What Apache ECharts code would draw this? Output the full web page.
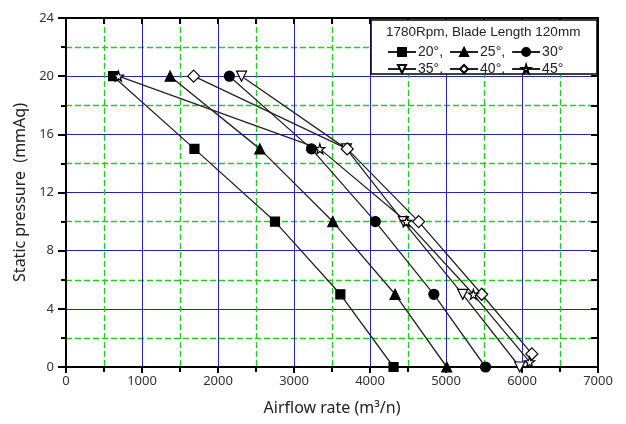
<!DOCTYPE html>
<html>
<head>
<meta charset="utf-8">
<script src="https://cdn.jsdelivr.net/npm/echarts@6/dist/echarts.min.js"></script>
<style>
html,body{margin:0;padding:0;background:#fff;}
#chart{width:626px;height:424px;}
</style>
</head>
<body>
<div id="chart"></div>
<script>
// Data (airflow m3/n, static pressure mmAq)
const seriesNames = ['20°', '25°', '30°', '35°', '40°', '45°'];
const pressure = [20, 15, 10, 5, 0];
const flow20 = [620, 1690, 2750, 3610, 4310];
const flow25 = [1370, 2550, 3510, 4330, 5010];
const flow30 = [2150, 3230, 4070, 4840, 5520];
const flow35 = [2310, 3690, 4440, 5220, 5970];
const flow40 = [1680, 3700, 4640, 5470, 6130];
const flow45 = [690, 3340, 4480, 5360, 6100];
const pressure40 = [20, 15, 10, 5, 0.9];
const pressure45 = [20, 15, 10, 5, 0.35];
const xTicks = [0, 1000, 2000, 3000, 4000, 5000, 6000, 7000];
const yTicks = [0, 4, 8, 12, 16, 20, 24];

function pairs(xs, ys) { return xs.map((x, i) => [x, ys[i]]); }

const STAR = 'path://M50,0 L61,35 L98,35 L68,57 L79,91 L50,70 L21,91 L32,57 L2,35 L39,35 Z';
const lineColor = '#222';
const styles = [
  { symbol: 'rect', size: 9, fill: '#000' },
  { symbol: 'triangle', size: 10, fill: '#000' },
  { symbol: 'circle', size: 10, fill: '#000' },
  { symbol: 'triangle', size: 10, fill: '#fff', rotate: 180 },
  { symbol: 'diamond', size: 12, fill: '#fff' },
  { symbol: STAR, size: 10, fill: '#fff' }
];
const dataSets = [
  pairs(flow20, pressure), pairs(flow25, pressure), pairs(flow30, pressure),
  pairs(flow35, pressure), pairs(flow40, pressure40), pairs(flow45, pressure45)
];

const series = seriesNames.map((name, i) => ({
  name: name,
  type: 'line',
  data: dataSets[i],
  symbol: styles[i].symbol,
  symbolSize: styles[i].size,
  symbolRotate: styles[i].rotate || 0,
  showAllSymbol: true,
  clip: false,
  lineStyle: { color: lineColor, width: 1.3 },
  itemStyle: { color: styles[i].fill, borderColor: '#000', borderWidth: 1.2 },
  emphasis: { disabled: true },
  z: 2
}));

const tickFont = { fontFamily: 'Noto Sans', fontSize: 13, color: '#333' };
function gridLine() { return { show: true, lineStyle: { color: '#2424b8', width: 1 } }; }
function minorGrid() { return { show: true, lineStyle: { color: '#22cc22', width: 1.3, type: [6, 3] } }; }

const option = {
  animation: false,
  backgroundColor: '#fff',
  grid: { left: 66, top: 18, right: 28, bottom: 57 },
  xAxis: [
    {
      type: 'value', min: 0, max: 7000, interval: 1000, position: 'bottom',
      name: 'Airflow rate (m³/n)', nameLocation: 'middle', nameGap: 33,
      nameTextStyle: { fontFamily: 'Noto Sans', fontSize: 16, color: '#222' },
      axisLine: { show: true, onZero: false, lineStyle: { color: '#000', width: 2 } },
      axisTick: { show: true, inside: false, length: 6, lineStyle: { color: '#000', width: 2 } },
      minorTick: { show: true, splitNumber: 2, length: 5, lineStyle: { color: '#000', width: 2 } },
      axisLabel: Object.assign({ margin: 8, formatter: v => xTicks.includes(v) ? String(v) : '' }, tickFont),
      splitLine: gridLine(),
      minorSplitLine: minorGrid()
    },
    {
      type: 'value', min: 0, max: 7000, interval: 1000, position: 'top',
      axisLine: { show: true, onZero: false, lineStyle: { color: '#000', width: 2 } },
      axisTick: { show: true, inside: true, length: 6, lineStyle: { color: '#000', width: 2 } },
      minorTick: { show: true, splitNumber: 2, length: 6, lineStyle: { color: '#000', width: 2 } },
      axisLabel: { show: false },
      splitLine: { show: false }
    }
  ],
  yAxis: [
    {
      type: 'value', min: 0, max: 24, interval: 4, position: 'left',
      name: 'Static pressure  (mmAq)', nameLocation: 'middle', nameGap: 36,
      nameTextStyle: { fontFamily: 'Noto Sans', fontSize: 16, color: '#222' },
      axisLine: { show: true, onZero: false, lineStyle: { color: '#000', width: 2 } },
      axisTick: { show: true, inside: false, length: 8, lineStyle: { color: '#000', width: 2 } },
      minorTick: { show: true, splitNumber: 2, length: 5, lineStyle: { color: '#000', width: 2 } },
      axisLabel: Object.assign({ margin: 12, formatter: v => yTicks.includes(v) ? String(v) : '' }, tickFont),
      splitLine: gridLine(),
      minorSplitLine: minorGrid()
    },
    {
      type: 'value', min: 0, max: 24, interval: 4, position: 'right',
      axisLine: { show: true, onZero: false, lineStyle: { color: '#000', width: 2 } },
      axisTick: { show: true, inside: true, length: 7, lineStyle: { color: '#000', width: 2 } },
      minorTick: { show: true, splitNumber: 2, length: 7, lineStyle: { color: '#000', width: 2 } },
      axisLabel: { show: false },
      splitLine: { show: false }
    }
  ],
  graphic: [
    {
      type: 'rect', z: 5,
      shape: { x: 371, y: 20, width: 226, height: 54 },
      style: { fill: '#fff', stroke: '#000', lineWidth: 1.5 }
    },
    {
      type: 'text', z: 6, left: 386, top: 25,
      style: { text: '1780Rpm, Blade Length 120mm', font: '13.5px "Liberation Sans"', fill: '#222' }
    }
  ],
  legend: [
    {
      data: seriesNames.slice(0, 3), left: 387, top: 45, z: 10,
      itemWidth: 28, itemHeight: 10, itemGap: 6,
      textStyle: { fontFamily: 'Liberation Sans', fontSize: 14, color: '#222', padding: [0, 0, 0, -3] },
      formatter: n => n === '30°' ? n : n + ',',
      selectedMode: false, padding: 0
    },
    {
      data: seriesNames.slice(3), left: 387, top: 62, z: 10,
      itemWidth: 28, itemHeight: 10, itemGap: 6,
      textStyle: { fontFamily: 'Liberation Sans', fontSize: 14, color: '#222', padding: [0, 0, 0, -3] },
      formatter: n => n === '45°' ? n : n + ',',
      selectedMode: false, padding: 0
    }
  ],
  series: series
};

const chart = echarts.init(document.getElementById('chart'), null, { renderer: 'canvas' });
chart.setOption(option);
</script>
</body>
</html>
